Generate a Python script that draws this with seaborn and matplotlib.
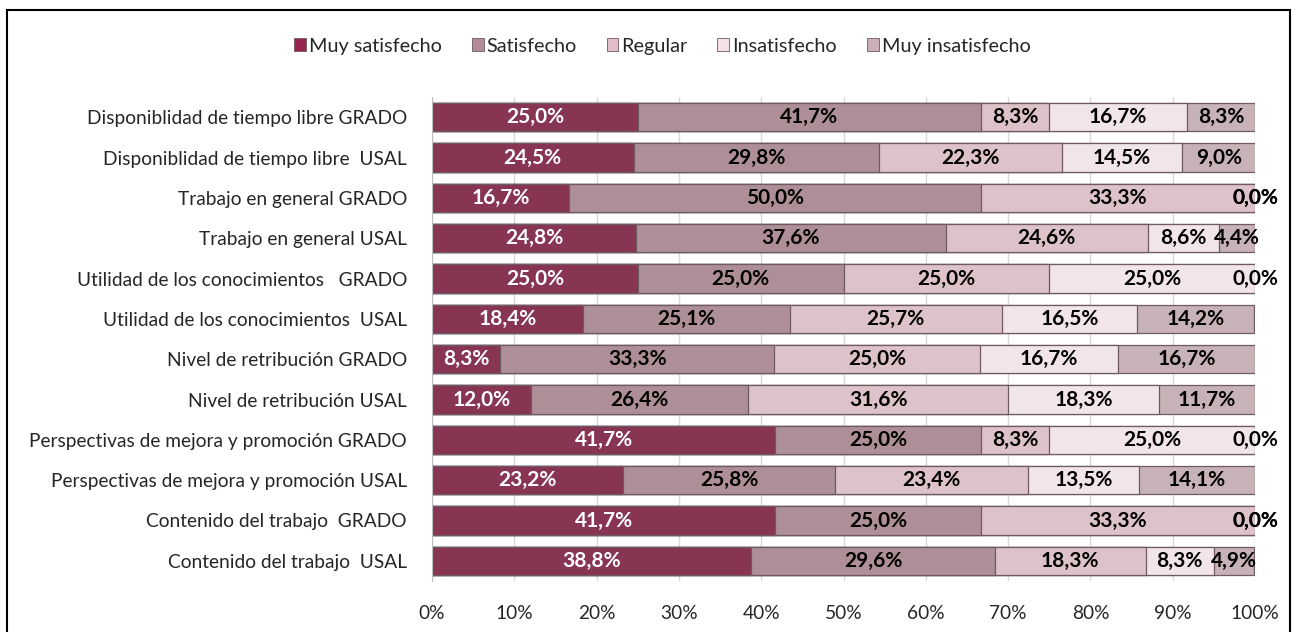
import numpy as np
import pandas as pd
import matplotlib.pyplot as plt
import matplotlib.patches as mpatches
import seaborn as sns

# -----------------------------
# Data
# -----------------------------
categories = [
    "Disponiblidad de tiempo libre GRADO",
    "Disponiblidad de tiempo libre  USAL",
    "Trabajo en general GRADO",
    "Trabajo en general USAL",
    "Utilidad de los conocimientos   GRADO",
    "Utilidad de los conocimientos  USAL",
    "Nivel de retribución GRADO",
    "Nivel de retribución USAL",
    "Perspectivas de mejora y promoción GRADO",
    "Perspectivas de mejora y promoción USAL",
    "Contenido del trabajo  GRADO",
    "Contenido del trabajo  USAL",
]
series_names = ["Muy satisfecho", "Satisfecho", "Regular", "Insatisfecho", "Muy insatisfecho"]

muy_satisfecho = [25.0, 24.5, 16.7, 24.8, 25.0, 18.4, 8.3, 12.0, 41.7, 23.2, 41.7, 38.8]
satisfecho = [41.7, 29.8, 50.0, 37.6, 25.0, 25.1, 33.3, 26.4, 25.0, 25.8, 25.0, 29.6]
regular = [8.3, 22.3, 33.3, 24.6, 25.0, 25.7, 25.0, 31.6, 8.3, 23.4, 33.3, 18.3]
insatisfecho = [16.7, 14.5, 0.0, 8.6, 25.0, 16.5, 16.7, 18.3, 25.0, 13.5, 0.0, 8.3]
muy_insatisfecho = [8.3, 9.0, 0.0, 4.4, 0.0, 14.2, 16.7, 11.7, 0.0, 14.1, 0.0, 4.9]

colors = ["#962650", "#B38A95", "#E2BDC8", "#F3E3E9", "#CBAEB6"]
label_colors = ["white", "black", "black", "black", "black"]

values = np.array([muy_satisfecho, satisfecho, regular, insatisfecho, muy_insatisfecho])
cum = values.cumsum(axis=0)

# -----------------------------
# Style
# -----------------------------
sns.set_style("white")
plt.rcParams["font.family"] = ["Lato", "DejaVu Sans"]

fig = plt.figure(figsize=(12.96, 6.32), dpi=100)
ax = fig.add_axes([0.3333, 0.0807, 0.6351, 0.7658])

# stacked bars: draw cumulative totals from back to front
for i in range(len(series_names) - 1, -1, -1):
    df = pd.DataFrame({"cat": categories, "val": cum[i]})
    sns.barplot(data=df, x="val", y="cat", orient="h", color=colors[i],
                width=0.7, edgecolor="#6e5a60", linewidth=0.9, ax=ax, zorder=2)

# data labels
for i in range(len(series_names)):
    for j in range(len(categories)):
        v = values[i, j]
        xpos = cum[i, j] - v / 2
        ax.text(xpos, j, f"{v:.1f}%".replace(".", ","), ha="center", va="center",
                fontsize=15, fontweight="bold", color=label_colors[i], zorder=5)

ax.set_xlim(0, 100)
ax.set_ylim(len(categories) - 0.5, -0.5)
ax.set_xticks(np.arange(0, 101, 10))
ax.set_xticklabels([f"{t}%" for t in range(0, 101, 10)])
ax.set_xlabel("")
ax.set_ylabel("")
ax.xaxis.grid(True, color="#d9d9d9", linewidth=1, zorder=0)
ax.set_axisbelow(True)

ax.tick_params(axis="x", length=0, labelsize=13.8, pad=17)
ax.tick_params(axis="y", which="major", length=0, labelsize=13.8, pad=18)
ax.set_yticks(np.arange(-0.5, len(categories), 1), minor=True)
ax.tick_params(axis="y", which="minor", length=6, color="#bfbfbf", width=1)

for s in ["top", "right", "bottom"]:
    ax.spines[s].set_visible(False)
ax.spines["left"].set_color("#bfbfbf")

# legend
handles = [mpatches.Patch(facecolor=c, edgecolor="#6e5a60", linewidth=0.6) for c in colors]
fig.legend(handles, series_names, loc="center", bbox_to_anchor=(0.511, 0.927), ncol=5,
           frameon=False, fontsize=14.3, handlelength=0.6, handleheight=0.6,
           handletextpad=0.15, columnspacing=1.5)

# outer border
fig.patches.append(mpatches.Rectangle((0.0055, -0.01), 0.99, 0.994, transform=fig.transFigure,
                                      fill=False, edgecolor="black", linewidth=1.5))

plt.savefig("out.png", dpi=100)
